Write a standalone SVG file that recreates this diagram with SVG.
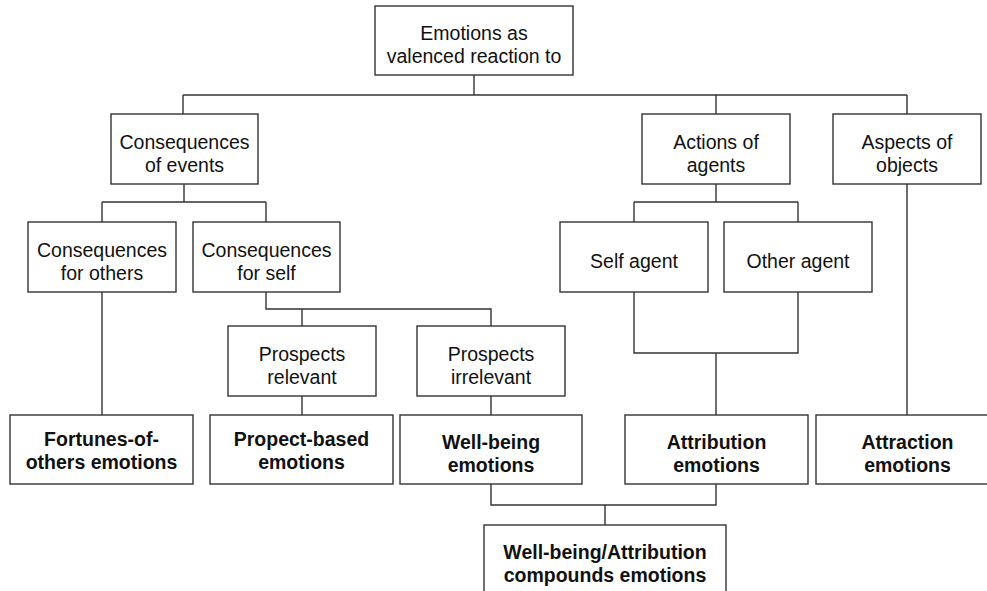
<svg xmlns="http://www.w3.org/2000/svg" width="987" height="591" viewBox="0 0 987 591">
  <style>
    .box { fill: #ffffff; stroke: #333333; stroke-width: 1.4; }
    .wire { fill: none; stroke: #333333; stroke-width: 1.4; }
    text { font-family: "Liberation Sans", Arial, sans-serif; font-size: 19.5px; fill: #111111; text-anchor: middle; }
    .b { font-weight: bold; }
  </style>
  <rect width="987" height="591" fill="#ffffff"/>

  <!-- connectors -->
  <g id="connectors">
    <path class="wire" d="M474,75 V95 M183,95 H907 M183,95 V114 M716,95 V114 M907,95 V114"/>
    <path class="wire" d="M184,184 V202 M102,202 H266 M102,202 V222 M266,202 V222"/>
    <path class="wire" d="M716,184 V202 M634,202 H798 M634,202 V222 M798,202 V222"/>
    <path class="wire" d="M266,292 V309 H491 V326 M302,309 V326"/>
    <path class="wire" d="M102,292 V415"/>
    <path class="wire" d="M302,396 V415 M491,396 V415"/>
    <path class="wire" d="M634,292 V353 H798 V292 M716,353 V415"/>
    <path class="wire" d="M907,184 V415"/>
    <path class="wire" d="M491,484 V505 H716 V484 M605,505 V525"/>
  </g>

  <g id="root">
    <rect class="box" x="375" y="6" width="198" height="69"/>
    <text x="474" y="40">Emotions as</text>
    <text x="474" y="63">valenced reaction to</text>
  </g>

  <g id="events">
    <rect class="box" x="111" y="114" width="147" height="70"/>
    <text x="184.5" y="148.5">Consequences</text>
    <text x="184.5" y="171.5">of events</text>
  </g>

  <g id="agents">
    <rect class="box" x="642" y="114" width="148" height="70"/>
    <text x="716" y="148.5">Actions of</text>
    <text x="716" y="171.5">agents</text>
  </g>

  <g id="objects">
    <rect class="box" x="833" y="114" width="148" height="70"/>
    <text x="907" y="148.5">Aspects of</text>
    <text x="907" y="171.5">objects</text>
  </g>

  <g id="for-others">
    <rect class="box" x="28" y="222" width="148" height="70"/>
    <text x="102" y="256.5">Consequences</text>
    <text x="102" y="279.5">for others</text>
  </g>

  <g id="for-self">
    <rect class="box" x="193" y="222" width="147" height="70"/>
    <text x="266.5" y="256.5">Consequences</text>
    <text x="266.5" y="279.5">for self</text>
  </g>

  <g id="self-agent">
    <rect class="box" x="560" y="222" width="148" height="70"/>
    <text x="634" y="268">Self agent</text>
  </g>

  <g id="other-agent">
    <rect class="box" x="724" y="222" width="148" height="70"/>
    <text x="798" y="268">Other agent</text>
  </g>

  <g id="prospects-relevant">
    <rect class="box" x="228" y="326" width="148" height="70"/>
    <text x="302" y="360.5">Prospects</text>
    <text x="302" y="383.5">relevant</text>
  </g>

  <g id="prospects-irrelevant">
    <rect class="box" x="417" y="326" width="148" height="70"/>
    <text x="491" y="360.5">Prospects</text>
    <text x="491" y="383.5">irrelevant</text>
  </g>

  <g id="fortunes-of-others">
    <rect class="box" x="10" y="415" width="183" height="69"/>
    <text class="b" x="101.5" y="446">Fortunes-of-</text>
    <text class="b" x="101.5" y="469">others emotions</text>
  </g>

  <g id="prospect-based">
    <rect class="box" x="210" y="415" width="183" height="69"/>
    <text class="b" x="301.5" y="446">Propect-based</text>
    <text class="b" x="301.5" y="469">emotions</text>
  </g>

  <g id="well-being">
    <rect class="box" x="400" y="415" width="182" height="69"/>
    <text class="b" x="491" y="448.5">Well-being</text>
    <text class="b" x="491" y="471.5">emotions</text>
  </g>

  <g id="attribution">
    <rect class="box" x="625" y="415" width="183" height="69"/>
    <text class="b" x="716.5" y="448.5">Attribution</text>
    <text class="b" x="716.5" y="471.5">emotions</text>
  </g>

  <g id="attraction">
    <rect class="box" x="816" y="415" width="183" height="69"/>
    <text class="b" x="907.5" y="448.5">Attraction</text>
    <text class="b" x="907.5" y="471.5">emotions</text>
  </g>

  <g id="compounds">
    <rect class="box" x="484" y="525" width="242" height="80"/>
    <text class="b" x="605" y="558.5">Well-being/Attribution</text>
    <text class="b" x="605" y="581.5">compounds emotions</text>
  </g>
</svg>
